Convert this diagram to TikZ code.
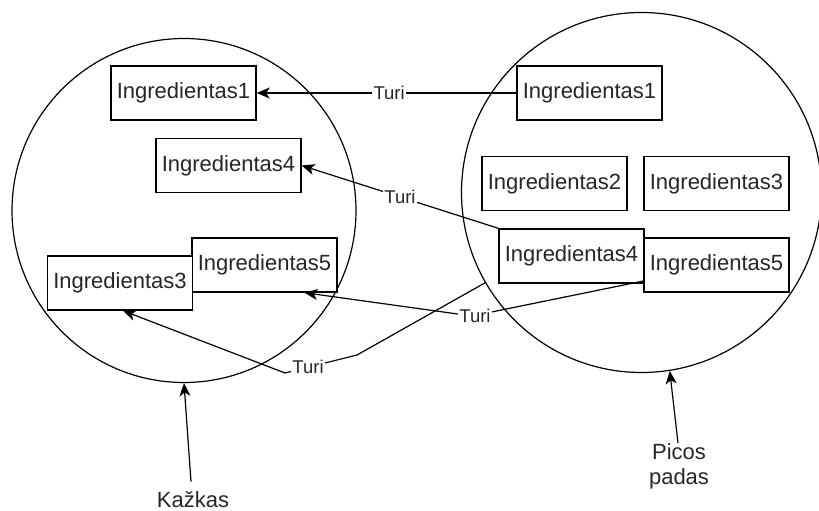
\documentclass[tikz,border=0pt]{standalone}
\usepackage{fontspec}
\setmainfont{Liberation Sans}
\usetikzlibrary{arrows.meta}
\begin{document}
\begin{tikzpicture}[x=1pt,y=-1pt,
  setring/.style={draw, circle, line width=1.2pt, inner sep=0pt},
  ingr/.style={draw, rectangle, line width=1.4pt, fill=white,
    minimum width=145pt, minimum height=54pt, inner sep=0pt,
    text=black!85, font=\fontsize{22}{25}\selectfont},
  arr/.style={line width=1.2pt, -{Stealth[length=13pt,width=11pt,inset=3.5pt]}},
  lbl/.style={fill=white, inner sep=1.5pt, text=black!85,
    font=\fontsize{18.5}{21}\selectfont},
  caption/.style={inner sep=0pt, align=center, text=black!85,
    font=\fontsize{22}{25}\selectfont}]
\useasboundingbox (0,0) rectangle (819,511);

% the two sets
\node[setring, minimum size=344pt] (lc) at (184,210.5) {};
\node[setring, minimum size=360pt] (rc) at (641.5,192.5) {};

% left set
\node[ingr] (L1) at (183.5,93) {Ingredientas1};
\node[ingr] (L4) at (228.5,165.5) {Ingredientas4};
\node[ingr] (L5) at (264.5,265) {Ingredientas5};
\node[ingr] (L3) at (120,283) {Ingredientas3};

% right set
\node[ingr] (R1) at (589.5,93) {Ingredientas1};
\node[ingr] (R2) at (554.5,183.5) {Ingredientas2};
\node[ingr] (R3) at (716.5,183.5) {Ingredientas3};
\node[ingr] (R4) at (571.5,256) {Ingredientas4};
\node[ingr] (R5) at (716.5,265) {Ingredientas5};

% "Turi" relations
\draw[arr] (R1.west) -- node[lbl, pos=0.49] {Turi} (L1.east);
\draw[arr] (R4.north west) -- node[lbl, pos=0.5] {Turi} (L4.east);
\draw[arr] ([yshift=-16pt]R5.west) -- (472,316) node[lbl, xshift=3pt] {Turi}
  -- ([xshift=40pt]L5.south);
\draw[arr] (rc.210) -- (357,355) -- node[lbl, pos=0.68] {Turi} (285,373)
  -- ([xshift=3pt]L3.south);

% set captions
\node[caption] (k) at (193,500) {Kažkas};
\draw[arr] ([xshift=-2pt,yshift=10pt]k.north) -- (lc.south);
\node[caption] (p) at (679,466) {Picos\\padas};
\draw[arr] ([xshift=-1pt]p.north) -- (rc.279);
\end{tikzpicture}
\end{document}
